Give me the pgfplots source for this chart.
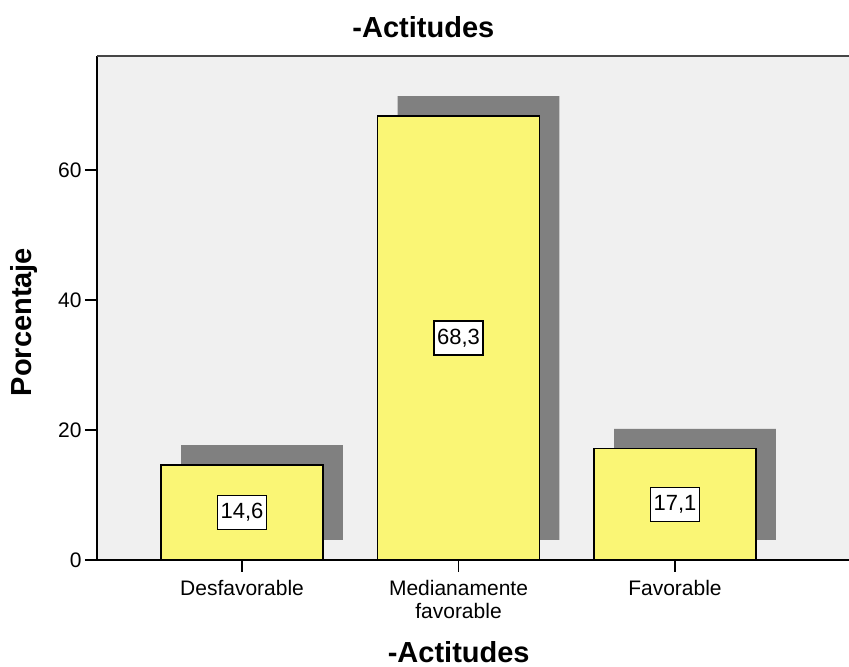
\documentclass[border=0pt]{standalone}
\usepackage{pgfplots}
\pgfplotsset{compat=1.18}
\usepackage{pgfplotstable}
\usepackage{fontspec}
\setmainfont{Liberation Sans}

\definecolor{plotbg}{RGB}{240,240,240}
\definecolor{baryellow}{RGB}{250,246,117}
\definecolor{shadowgray}{RGB}{128,128,128}
\definecolor{framegray}{RGB}{70,70,70}

% x position, percentage
\pgfplotstableread{
x   v
0   14.6
1   68.3
2   17.1
}\actitudes

\begin{document}
\begin{tikzpicture}[x=1bp,y=1bp]
\useasboundingbox (0,0) rectangle (849,667);
\begin{axis}[
  at={(97bp,107bp)}, anchor=south west,
  scale only axis, width=752bp, height=504bp,
  xmin=-0.670, xmax=2.804,
  ymin=0, ymax=77.54,
  axis x line*=bottom, axis y line*=left,
  axis line style={black, line width=1.2bp, -},
  axis background/.style={fill=plotbg},
  xtick={0,1,2},
  xticklabels={Desfavorable,{Medianamente\\favorable},Favorable},
  ytick={0,20,40,60},
  tick align=outside,
  major tick length=12bp,
  tick style={black, line width=1.2bp},
  /pgf/number format/assume math mode=true,
  ticklabel style={font=\fontsize{21bp}{23bp}\selectfont},
  xticklabel style={align=center, yshift=-5bp},
  title={-Actitudes},
  every axis title/.style={at={(axis description cs:0.434,1)}, anchor=base, yshift=18bp,
    font=\fontsize{29bp}{32bp}\selectfont\bfseries},
  xlabel={-Actitudes},
  xlabel style={at={(axis description cs:0.481,0)}, anchor=base, yshift=-103bp,
    font=\fontsize{29bp}{32bp}\selectfont\bfseries},
  ylabel={Porcentaje},
  ylabel style={at={(axis description cs:0,0.472)}, anchor=center, yshift=73bp,
    font=\fontsize{29bp}{32bp}\selectfont\bfseries},
  clip=false,
]
% drop shadows behind the bars
\addplot[ybar, bar width=0.748, bar shift=0pt, fill=shadowgray, draw=none,
  xshift=20bp, yshift=20bp, forget plot] table[x=x, y=v] {\actitudes};
% bars
\addplot[ybar, bar width=0.748, bar shift=0pt, fill=baryellow, draw=black,
  line width=1.2bp, forget plot] table[x=x, y=v] {\actitudes};
% value boxes at half bar height
\addplot[draw=none, mark=none, forget plot,
  point meta=\thisrow{v},
  nodes near coords={\pgfmathprintnumber[fixed, precision=1, fixed zerofill, use comma]{\pgfplotspointmeta}},
  nodes near coords align=center,
  every node near coord/.append style={anchor=center, draw=black, fill=white,
    line width=1.2bp, font=\fontsize{22bp}{24bp}\selectfont,
    inner xsep=3bp, minimum height=34bp, /pgf/number format/assume math mode=true},
] table[x=x, y expr=\thisrow{v}/2] {\actitudes};
% top frame line
\draw[framegray, line width=1.4bp] (axis description cs:0,1) -- (axis description cs:1,1);
\end{axis}
\end{tikzpicture}
\end{document}
